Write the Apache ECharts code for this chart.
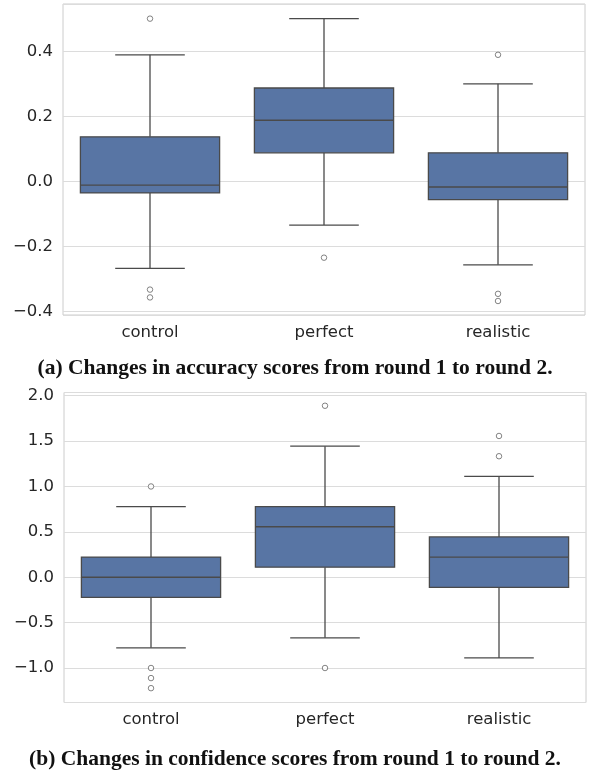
<!DOCTYPE html>
<html>
<head>
<meta charset="utf-8">
<script src="https://cdn.jsdelivr.net/npm/echarts@6.0.0/dist/echarts.min.js"></script>
<style>
html,body{margin:0;padding:0;background:#fff;}
#chart{width:590px;height:774px;}
</style>
</head>
<body>
<div id="chart"></div>
<script>
// ---- data ----
const categories = ['control', 'perfect', 'realistic'];

// [lower whisker, Q1, median, Q3, upper whisker]
const accuracyControl   = [-0.267, -0.035, -0.011, 0.137, 0.389];
const accuracyPerfect   = [-0.134, 0.088, 0.188, 0.287, 0.5];
const accuracyRealistic = [-0.256, -0.056, -0.017, 0.088, 0.3];
const accuracyOutliersControl   = [0.5, -0.332, -0.356];
const accuracyOutliersPerfect   = [-0.234];
const accuracyOutliersRealistic = [0.389, -0.345, -0.367];

const confidenceControl   = [-0.778, -0.222, 0.0, 0.222, 0.778];
const confidencePerfect   = [-0.667, 0.111, 0.556, 0.778, 1.444];
const confidenceRealistic = [-0.889, -0.111, 0.222, 0.444, 1.111];
const confidenceOutliersControl   = [1.0, -1.0, -1.111, -1.222];
const confidenceOutliersPerfect   = [1.889, -1.0];
const confidenceOutliersRealistic = [1.556, 1.333];

const captionA = '(a) Changes in accuracy scores from round 1 to round 2.';
const captionB = '(b) Changes in confidence scores from round 1 to round 2.';

// ---- styles ----
const BOX_FILL = '#5875a4';
const LINE = '#4a4a4a';
const TEXT = '#262626';
const GRID = '#dcdcdc';
const FRAME = '#cccccc';
const LABEL_FONT = 'DejaVu Sans';

function boxData(stats) {
  return stats.map((s, i) => [i].concat(s));
}
function outlierData(lists) {
  const out = [];
  lists.forEach((l, i) => l.forEach(v => out.push([i, v])));
  return out;
}

function renderBox(params, api) {
  const x = api.value(0);
  const wl = api.value(1), q1 = api.value(2), med = api.value(3), q3 = api.value(4), wh = api.value(5);
  const band = api.size([1, 0])[0];
  const boxW = band * 0.8;
  const capW = boxW * 0.5;
  const pWl = api.coord([x, wl]);
  const pQ1 = api.coord([x, q1]);
  const pMed = api.coord([x, med]);
  const pQ3 = api.coord([x, q3]);
  const pWh = api.coord([x, wh]);
  const cx = pQ1[0];
  const ls = { stroke: LINE, lineWidth: 1.3 };
  return {
    type: 'group',
    children: [
      { type: 'line', shape: { x1: cx, y1: pQ3[1], x2: cx, y2: pWh[1] }, style: ls },
      { type: 'line', shape: { x1: cx - capW / 2, y1: pWh[1], x2: cx + capW / 2, y2: pWh[1] }, style: ls },
      { type: 'line', shape: { x1: cx, y1: pQ1[1], x2: cx, y2: pWl[1] }, style: ls },
      { type: 'line', shape: { x1: cx - capW / 2, y1: pWl[1], x2: cx + capW / 2, y2: pWl[1] }, style: ls },
      { type: 'rect', shape: { x: cx - boxW / 2, y: pQ3[1], width: boxW, height: pQ1[1] - pQ3[1] },
        style: { fill: BOX_FILL, stroke: LINE, lineWidth: 1.3 } },
      { type: 'line', shape: { x1: cx - boxW / 2, y1: pMed[1], x2: cx + boxW / 2, y2: pMed[1] }, style: ls }
    ]
  };
}

function fmt(step) {
  return function (v) {
    const k = v / step;
    if (Math.abs(k - Math.round(k)) > 1e-6) return '';
    const s = Math.abs(v).toFixed(1);
    return (v < -1e-9 ? '\u2212' : '') + s;
  };
}

const labelStyle = { color: TEXT, fontFamily: LABEL_FONT, fontSize: 16.5 };
const OUTLIER = '#555555';

const option = {
  backgroundColor: '#ffffff',
  animation: false,
  grid: [
    { left: 63, top: 4, width: 522, height: 311, show: true, borderColor: FRAME, borderWidth: 1, backgroundColor: 'transparent' },
    { left: 64, top: 392.5, width: 522, height: 310, show: true, borderColor: FRAME, borderWidth: 1, backgroundColor: 'transparent' }
  ],
  xAxis: [
    { type: 'category', gridIndex: 0, data: categories, axisLine: { show: false }, axisTick: { show: false },
      splitLine: { show: false }, axisLabel: Object.assign({ margin: 9 }, labelStyle) },
    { type: 'category', gridIndex: 1, data: categories, axisLine: { show: false }, axisTick: { show: false },
      splitLine: { show: false }, axisLabel: Object.assign({ margin: 9 }, labelStyle) }
  ],
  yAxis: [
    { type: 'value', gridIndex: 0, min: -0.41, max: 0.545, minInterval: 0.2, maxInterval: 0.2,
      axisLine: { show: false }, axisTick: { show: false },
      splitLine: { show: true, lineStyle: { color: GRID, width: 1 } },
      axisLabel: Object.assign({ margin: 10, formatter: fmt(0.2), showMinLabel: true, showMaxLabel: true }, labelStyle) },
    { type: 'value', gridIndex: 1, min: -1.38, max: 2.035, minInterval: 0.5, maxInterval: 0.5,
      axisLine: { show: false }, axisTick: { show: false },
      splitLine: { show: true, lineStyle: { color: GRID, width: 1 } },
      axisLabel: Object.assign({ margin: 10, formatter: fmt(0.5) }, labelStyle) }
  ],
  series: [
    { type: 'custom', xAxisIndex: 0, yAxisIndex: 0, renderItem: renderBox,
      encode: { x: 0, y: [1, 2, 3, 4, 5] },
      data: boxData([accuracyControl, accuracyPerfect, accuracyRealistic]) },
    { type: 'scatter', xAxisIndex: 0, yAxisIndex: 0, symbol: 'circle', symbolSize: 5.5, z: 5,
      itemStyle: { color: '#ffffff', borderColor: OUTLIER, borderWidth: 0.9 },
      data: outlierData([accuracyOutliersControl, accuracyOutliersPerfect, accuracyOutliersRealistic]) },
    { type: 'custom', xAxisIndex: 1, yAxisIndex: 1, renderItem: renderBox,
      encode: { x: 0, y: [1, 2, 3, 4, 5] },
      data: boxData([confidenceControl, confidencePerfect, confidenceRealistic]) },
    { type: 'scatter', xAxisIndex: 1, yAxisIndex: 1, symbol: 'circle', symbolSize: 5.5, z: 5,
      itemStyle: { color: '#ffffff', borderColor: OUTLIER, borderWidth: 0.9 },
      data: outlierData([confidenceOutliersControl, confidenceOutliersPerfect, confidenceOutliersRealistic]) }
  ],
  graphic: [
    { type: 'text', left: 'center', top: 357, style: { text: captionA, fill: '#111111',
      font: 'bold 21.5px "Liberation Serif"' } },
    { type: 'text', left: 'center', top: 748, style: { text: captionB, fill: '#111111',
      font: 'bold 21.5px "Liberation Serif"' } }
  ]
};

const chart = echarts.init(document.getElementById('chart'), null, { renderer: 'canvas' });
chart.setOption(option);
</script>
</body>
</html>
